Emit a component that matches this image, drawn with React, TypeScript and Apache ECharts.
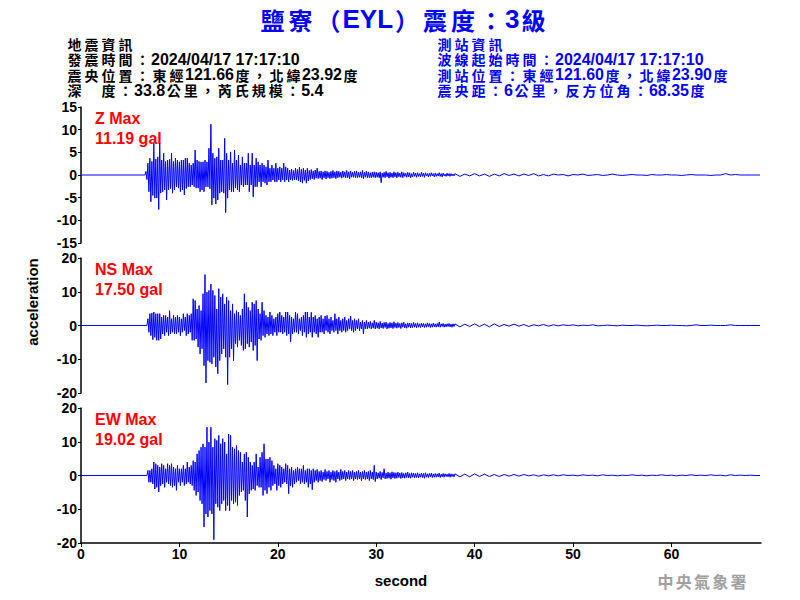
import React, { useEffect, useRef } from 'react';
import * as echarts from 'echarts';

// ---------- text content ----------
const TITLE = '鹽寮（EYL）震度：3級';
const QUAKE_INFO = [
  '地震資訊',
  '發震時間：2024/04/17 17:17:10',
  '震央位置：東經121.66度，北緯23.92度',
  '深　度：33.8公里，芮氏規模：5.4',
];
const STATION_INFO = [
  '測站資訊',
  '波線起始時間：2024/04/17 17:17:10',
  '測站位置：東經121.60度，北緯23.90度',
  '震央距：6公里，反方位角：68.35度',
];
const CHANNEL_NAMES = ['Z Max', 'NS Max', 'EW Max'];
const CHANNEL_PEAKS = ['11.19 gal', '17.50 gal', '19.02 gal'];
const X_NAME = 'second';
const Y_NAME = 'acceleration';
const AGENCY = '中央氣象署';

// ---------- axes ----------
const X_MAX = 69.1;
const X_TICKS = [0, 10, 20, 30, 40, 50, 60];
const Y_RANGES = [
  { min: -15, max: 15, interval: 5 },
  { min: -20, max: 20, interval: 10 },
  { min: -20, max: 20, interval: 10 },
];

// ---------- waveform data (gal) ----------
// strong-motion part: peak pairs (up, down) every PAIR_STEP seconds from *_START up to 37.8 s
const PAIR_STEP = 0.2;
// coda: single values every TAIL_STEP seconds from TAIL_START
const TAIL_START = 38.0;
const TAIL_STEP = 0.5;

const Z_START = 6.6;
const Z_UP = [
  0.8, 2.6, 3.7, 3.0, 7.0, 3.5, 4.0, 7.0, 3.3, 4.8,
  3.0, 3.3, 3.5, 4.8, 3.0, 3.7, 3.3, 2.9, 3.3, 3.3,
  3.7, 3.7, 2.6, 2.2, 2.6, 5.5, 3.3, 3.0, 2.9, 2.9,
  3.3, 2.9, 5.9, 11.19, 4.8, 3.7, 4.0, 5.9, 3.3, 3.3,
  8.1, 4.8, 3.3, 5.1, 2.6, 5.5, 3.3, 4.4, 2.2, 4.0,
  2.6, 2.6, 4.8, 2.2, 4.8, 2.2, 3.7, 2.9, 2.2, 2.6,
  2.2, 1.8, 3.3, 1.5, 2.2, 1.5, 2.6, 1.5, 1.8, 1.5,
  2.6, 1.8, 1.5, 1.1, 1.3, 1.0, 1.5, 1.2, 1.7, 1.3,
  1.5, 1.1, 1.5, 1.0, 1.2, 0.9, 1.1, 1.5, 0.8, 0.9,
  0.7, 0.9, 0.8, 0.6, 0.8, 1.0, 0.7, 0.9, 0.8, 0.6,
  0.9, 0.7, 1.0, 0.7, 0.9, 0.6, 0.8, 0.9, 0.6, 0.7,
  1.0, 0.6, 0.8, 0.7, 0.5, 0.6, 0.7,
  0.6, 0.5, 0.7, 0.4, 0.6, 0.8, 0.5, 0.6, 0.4, 0.7,
  0.5, 0.6, 0.4, 0.7, 0.5, 0.4, 0.6, 0.5, 0.3, 0.6,
  0.4, 0.5, 0.3, 0.6, 0.4, 0.5, 0.3, 0.4, 0.5, 0.3,
  0.4, 0.3, 0.5, 0.3, 0.4, 0.2, 0.4, 0.3, 0.3, 0.2,
];
const Z_DOWN = [
  -1.0, -3.7, -5.9, -4.5, -5.1, -5.1, -7.6, -4.0, -3.7, -3.3,
  -5.5, -3.3, -3.0, -4.0, -3.3, -2.6, -2.9, -3.7, -3.3, -4.4,
  -3.0, -2.6, -2.6, -2.2, -2.6, -2.9, -2.9, -3.7, -3.3, -3.7,
  -2.6, -2.6, -3.0, -6.6, -5.1, -6.4, -5.5, -4.0, -3.7, -4.0,
  -8.3, -5.1, -3.3, -3.7, -3.7, -2.9, -3.3, -3.7, -2.2, -2.6,
  -2.2, -2.2, -3.7, -2.2, -4.8, -2.6, -2.6, -1.5, -2.6, -1.5,
  -1.8, -2.2, -1.5, -1.5, -1.1, -1.5, -1.5, -1.1, -1.5, -1.1,
  -1.5, -1.1, -1.5, -1.1, -1.2, -1.1, -1.1, -1.3, -1.5, -1.8,
  -1.2, -1.8, -1.3, -1.0, -0.8, -1.0, -0.7, -0.8, -0.7, -1.0,
  -0.6, -0.9, -0.6, -0.8, -0.7, -0.6, -0.8, -0.6, -0.5, -0.7,
  -0.5, -0.6, -0.6, -0.8, -0.5, -0.5, -0.6, -0.6, -0.5, -0.6,
  -0.8, -0.5, -0.6, -0.6, -0.6, -0.5, -0.6,
  -0.5, -0.6, -1.7, -0.5, -0.6, -0.4, -0.7, -0.5, -0.6, -0.4,
  -0.6, -0.4, -0.5, -0.6, -0.3, -0.5, -0.4, -0.6, -0.4, -0.3,
  -0.5, -0.3, -0.4, -0.3, -0.5, -0.2, -0.4, -0.3, -0.2, -0.4,
  -0.3, -0.2, -0.3, -0.4, -0.2, -0.3, -0.2, -0.3, -0.2, -0.2,
];
const Z_TAIL = [
  0.3, -0.3, 0.2, -0.2, 0.3, -0.2, 0.2, -0.3, 0.2, -0.2,
  0.3, -0.1, 0.2, -0.2, 0.2, -0.1, 0.3, -0.2, 0.1, -0.2,
  0.2, 0, 0.1, -0.2, 0.1, 0, 0.2, -0.1, 0, 0.1,
  -0.1, 0, 0.2, 0, -0.1, 0, 0.1, 0, 0, -0.1,
  0.1, 0, 0, 0.1, 0, 0, -0.1, 0, 0.1, 0,
  0, 0, -0.1, 0, 0, 0.3, 0, 0.1, 0, 0,
  0, 0, 0,
];

const NS_START = 6.8;
const NS_UP = [
  2.0, 3.5, 3.7, 4.0, 3.5, 3.5, 3.5, 2.5, 3.0, 3.0,
  2.5, 4.4, 2.0, 3.0, 2.5, 3.0, 2.5, 2.0, 3.5, 2.5,
  3.5, 3.0, 3.5, 7.9, 7.4, 4.9, 5.9, 4.4, 9.4, 15.1,
  9.9, 10.4, 12.3, 10.4, 8.9, 4.9, 10.9, 8.4, 9.4, 6.4,
  8.4, 7.4, 4.4, 6.4, 3.5, 4.4, 4.0, 3.0, 4.9, 9.4,
  6.9, 5.4, 4.4, 6.9, 6.4, 7.4, 4.9, 3.5, 6.9, 4.4,
  3.0, 2.5, 4.0, 3.0, 2.0, 2.5, 3.5, 4.0, 3.0, 2.5,
  4.0, 4.0, 3.0, 2.5, 2.0, 4.0, 3.5, 2.0, 2.5, 3.0,
  4.0, 4.0, 2.5, 3.9, 2.5, 3.0, 2.0, 2.5, 3.0, 2.0,
  2.8, 3.0, 2.0, 2.5, 1.5, 3.5, 2.0, 2.5, 1.5, 2.0,
  2.5, 1.5, 2.0, 2.8, 1.5, 2.0, 1.5, 2.0, 1.0, 1.5,
  1.0, 1.5, 1.0, 1.2, 0.8, 1.5,
  1.0, 0.8, 1.2, 0.7, 0.9, 1.0, 0.6, 0.9, 0.8, 1.1,
  0.7, 0.9, 0.6, 0.8, 1.0, 0.5, 0.8, 0.7, 0.6, 0.9,
  0.6, 0.8, 0.5, 0.7, 0.6, 0.5, 0.8, 0.6, 0.5, 0.7,
  0.5, 0.6, 1.0, 0.5, 0.6, 0.4, 0.5, 0.6, 0.4, 0.5,
];
const NS_DOWN = [
  -2.0, -3.0, -4.2, -3.5, -4.4, -4.4, -4.0, -2.5, -3.0, -2.0,
  -3.0, -2.5, -2.0, -2.5, -2.5, -2.0, -3.0, -2.0, -1.5, -3.0,
  -2.5, -2.0, -4.4, -4.4, -4.0, -6.4, -8.4, -6.9, -11.9, -17.0,
  -10.4, -10.9, -11.4, -9.4, -12.3, -14.3, -10.4, -8.4, -6.9, -9.4,
  -17.5, -9.4, -6.9, -10.4, -5.4, -6.4, -4.4, -5.9, -7.4, -6.9,
  -5.4, -6.4, -4.9, -7.4, -5.9, -10.4, -4.0, -4.4, -3.0, -3.5,
  -2.5, -3.0, -2.5, -3.0, -2.0, -3.0, -2.0, -2.0, -2.5, -2.0,
  -3.0, -2.5, -4.9, -2.5, -2.0, -2.0, -2.5, -1.5, -3.0, -2.0,
  -3.5, -2.5, -2.0, -3.5, -2.0, -2.5, -3.5, -2.0, -2.0, -2.5,
  -1.5, -2.0, -2.5, -1.5, -2.0, -1.5, -2.5, -1.5, -2.0, -1.5,
  -2.0, -1.5, -1.0, -1.5, -2.0, -1.5, -1.0, -1.5, -1.0, -2.5,
  -1.0, -1.0, -0.8, -1.0, -0.8, -1.0,
  -0.8, -1.0, -0.7, -0.9, -0.6, -1.0, -0.8, -0.7, -0.9, -0.6,
  -0.8, -0.6, -0.9, -0.5, -0.7, -0.8, -0.5, -0.7, -0.6, -0.5,
  -0.7, -0.5, -0.6, -0.4, -0.6, -0.5, -0.4, -0.6, -0.5, -0.4,
  -0.5, -0.4, -0.5, -0.3, -0.5, -0.4, -0.3, -0.4, -0.5, -0.3,
];
const NS_TAIL = [
  0.5, -0.4, 0.4, -0.3, 0.5, -0.3, 0.4, -0.4, 0.5, -0.3,
  0.3, -0.2, 0.4, -0.2, 0.3, -0.3, 0.2, -0.1, 0.3, -0.2,
  0.2, -0.1, 0.2, 0, 0.2, -0.1, 0.1, 0, 0.2, -0.1,
  0, 0.1, 0, -0.1, 0.1, 0, 0, 0.1, 0, -0.1,
  0, 0.1, 0, 0, 0.1, 0, 0, -0.1, 0, 0.2,
  0, 0, 0.1, 0, 0, 0, 0.2, 0, 0, 0,
  0, 0, 0,
];

const EW_START = 6.8;
const EW_UP = [
  1.5, 1.5, 2.0, 4.0, 3.5, 3.0, 2.5, 3.5, 3.0, 2.0,
  3.5, 3.0, 3.5, 2.5, 2.0, 3.0, 2.0, 2.0, 3.0, 2.0,
  4.0, 2.5, 3.0, 4.4, 4.0, 6.4, 7.4, 8.4, 9.4, 8.4,
  14.3, 9.9, 14.3, 8.4, 10.9, 10.4, 11.9, 9.4, 10.9, 9.9,
  6.4, 12.3, 11.9, 8.4, 7.9, 8.9, 7.4, 6.9, 4.0, 6.4,
  6.9, 5.4, 4.0, 3.0, 4.0, 6.4, 2.5, 5.4, 6.9, 9.4,
  4.9, 4.9, 5.4, 4.4, 3.0, 2.0, 3.5, 3.0, 2.5, 2.0,
  3.5, 3.0, 2.0, 2.5, 1.5, 2.0, 2.5, 2.0, 2.0, 3.0,
  1.5, 2.0, 2.0, 1.5, 2.0, 1.5, 1.8, 1.2, 1.5, 1.0,
  1.8, 1.2, 1.5, 1.0, 1.5, 1.2, 1.5, 1.0, 1.8, 1.2,
  1.5, 1.0, 1.5, 1.2, 1.5, 1.0, 1.2, 1.5, 1.0, 1.2,
  1.5, 1.0, 1.2, 1.5, 1.0, 3.0,
  1.0, 0.8, 1.2, 0.9, 2.0, 0.7, 1.0, 0.8, 1.1, 0.9,
  0.8, 1.0, 0.7, 0.9, 0.6, 0.8, 1.0, 0.6, 0.8, 0.7,
  0.6, 0.8, 0.5, 0.7, 0.6, 0.8, 0.5, 0.6, 0.7, 0.5,
  0.6, 0.5, 0.7, 0.4, 0.6, 0.5, 0.4, 0.6, 0.5, 0.4,
];
const EW_DOWN = [
  -2.0, -2.0, -2.5, -4.0, -3.5, -4.9, -3.0, -2.5, -3.5, -2.0,
  -2.5, -3.0, -3.5, -3.0, -4.4, -2.0, -3.0, -2.0, -3.0, -2.5,
  -2.0, -2.5, -3.0, -4.4, -5.9, -4.9, -7.4, -8.4, -15.3, -11.4,
  -12.3, -10.4, -11.4, -19.02, -8.4, -9.4, -10.4, -8.4, -7.4, -10.4,
  -8.9, -10.4, -7.4, -8.4, -7.9, -8.9, -5.9, -4.9, -4.4, -7.4,
  -12.3, -5.4, -4.4, -4.0, -4.4, -3.0, -3.5, -3.5, -5.9, -4.4,
  -5.4, -3.5, -4.4, -3.0, -2.5, -4.4, -3.0, -3.5, -2.5, -2.0,
  -2.5, -5.4, -3.0, -3.5, -2.5, -2.0, -1.5, -2.5, -2.0, -2.5,
  -2.0, -3.5, -2.5, -4.2, -2.0, -1.5, -2.0, -1.5, -1.8, -1.2,
  -1.5, -1.0, -2.0, -1.2, -1.5, -2.0, -1.0, -1.5, -1.2, -1.0,
  -1.5, -1.0, -1.2, -1.0, -1.5, -1.0, -1.2, -1.0, -1.5, -1.0,
  -1.2, -1.0, -1.5, -1.0, -1.2, -1.8,
  -1.0, -0.8, -1.2, -0.7, -1.0, -0.9, -0.8, -1.1, -0.7, -0.9,
  -0.8, -0.6, -0.9, -0.7, -0.8, -0.6, -0.7, -0.8, -0.5, -0.7,
  -0.6, -0.7, -0.5, -0.6, -0.8, -0.5, -0.6, -0.4, -0.6, -0.5,
  -0.5, -0.4, -0.6, -0.4, -0.5, -0.3, -0.4, -0.5, -0.3, -0.4,
];
const EW_TAIL = [
  0.5, -0.4, 0.4, -0.4, 0.5, -0.3, 0.4, -0.3, 0.3, -0.3,
  0.3, -0.2, 0.3, -0.2, 0.3, -0.1, 0.2, -0.2, 0.2, -0.1,
  0.2, -0.1, 0.2, 0, 0.1, -0.1, 0.2, 0, 0.1, -0.1,
  0.2, 0, 0.1, -0.1, 0.1, 0, 0.2, 0, 0.1, -0.1,
  0.1, 0, 0.2, 0, 0.1, -0.1, 0.1, 0, 0.2, 0,
  0.1, 0, 0.2, 0, 0.1, -0.1, 0.2, 0, 0.1, 0,
  0.1, 0, 0,
];

function buildTrace(start: number, up: number[], down: number[], tail: number[]) {
  const pts: [number, number][] = [[0, 0], [start - 0.1, 0]];
  for (let i = 0; i < up.length; i++) {
    const t = start + i * PAIR_STEP;
    pts.push([+t.toFixed(3), up[i]]);
    pts.push([+(t + PAIR_STEP / 2).toFixed(3), down[i]]);
  }
  for (let i = 0; i < tail.length; i++) {
    pts.push([+(TAIL_START + i * TAIL_STEP).toFixed(3), tail[i]]);
  }
  return pts;
}

const SANS = '"Liberation Sans", Arial, sans-serif';
const CJK_FONT = '"Noto Sans CJK TC", "Noto Sans CJK SC", sans-serif';

// wrap each CJK / full-width character in its own fixed-width rich-text cell
function isWide(ch: string) {
  return ch.charCodeAt(0) >= 0x2e80;
}
function richify(s: string) {
  let out = '';
  let run = '';
  for (const ch of s) {
    if (isWide(ch)) {
      if (run) { out += `{a|${run}}`; run = ''; }
      out += `{c|${ch}}`;
    } else {
      run += ch;
    }
  }
  if (run) out += `{a|${run}}`;
  return out;
}

export default function App() {
  const ref = useRef<HTMLDivElement>(null);
  useEffect(() => {
    if (!ref.current) return;
    const chart = echarts.init(ref.current, undefined, { renderer: 'svg' });
    const traces = [
      buildTrace(Z_START, Z_UP, Z_DOWN, Z_TAIL),
      buildTrace(NS_START, NS_UP, NS_DOWN, NS_TAIL),
      buildTrace(EW_START, EW_UP, EW_DOWN, EW_TAIL),
    ];
    const grids = [
      { left: 81, top: 107, width: 680, height: 136 },
      { left: 81, top: 258, width: 680, height: 135 },
      { left: 81, top: 408, width: 680, height: 135 },
    ];
    const headerRich = (color: string) => ({
      a: { font: `bold 16px ${SANS}`, fill: color, height: 15 },
      c: { font: `bold 14px ${CJK_FONT}`, fill: color, width: 17, align: 'center', height: 15 },
    });
    const graphic: any[] = [];
    graphic.push({
      type: 'text', x: 403, y: 5,
      style: {
        text: richify(TITLE), textAlign: 'center', textVerticalAlign: 'top',
        rich: {
          a: { font: `bold 26px ${SANS}`, fill: '#0000ff', height: 28 },
          c: { font: `bold 24px ${CJK_FONT}`, fill: '#0000ff', width: 28, align: 'center', height: 28 },
        },
      },
    });
    QUAKE_INFO.forEach((s, i) => graphic.push({
      type: 'text', x: 66, y: 36 + i * 15.6,
      style: { text: richify(s), textAlign: 'left', textVerticalAlign: 'top', rich: headerRich('#000000') },
    }));
    STATION_INFO.forEach((s, i) => graphic.push({
      type: 'text', x: 436, y: 36 + i * 15.6,
      style: { text: richify(s), textAlign: 'left', textVerticalAlign: 'top', rich: headerRich('#0000ff') },
    }));
    grids.forEach((g, i) => {
      graphic.push({
        type: 'text', x: 95, y: g.top + 3,
        style: { text: CHANNEL_NAMES[i], fill: '#ff0000', font: `bold 16px ${SANS}`, textAlign: 'left', textVerticalAlign: 'top' },
      });
      graphic.push({
        type: 'text', x: 95, y: g.top + 23,
        style: { text: CHANNEL_PEAKS[i], fill: '#ff0000', font: `bold 16px ${SANS}`, textAlign: 'left', textVerticalAlign: 'top' },
      });
    });
    graphic.push({
      type: 'text', x: 401, y: 580,
      style: { text: X_NAME, fill: '#000', font: `bold 15px ${SANS}`, textAlign: 'center', textVerticalAlign: 'middle' },
    });
    graphic.push({
      type: 'text', x: 32, y: 302, rotation: Math.PI / 2,
      style: { text: Y_NAME, fill: '#000', font: `bold 15px ${SANS}`, textAlign: 'center', textVerticalAlign: 'middle' },
    });
    graphic.push({
      type: 'text', x: 702, y: 581,
      style: {
        text: richify(AGENCY), textAlign: 'center', textVerticalAlign: 'middle',
        rich: { c: { font: `bold 16px ${CJK_FONT}`, fill: '#a0a0a0', width: 18.2, align: 'center' } },
      },
    });

    chart.setOption({
      animation: false,
      backgroundColor: '#ffffff',
      grid: grids,
      xAxis: grids.map((_, i) => ({
        type: 'value', gridIndex: i, min: 0, max: X_MAX, interval: 10,
        show: i === 2,
        axisLine: { show: true, onZero: false, lineStyle: { color: '#000', width: 1.5 } },
        axisTick: { show: true, length: 4, customValues: X_TICKS, lineStyle: { color: '#000', width: 1 } },
        axisLabel: { show: true, customValues: X_TICKS, color: '#000', fontWeight: 'bold', fontSize: 14, fontFamily: SANS, margin: 4 },
        splitLine: { show: false },
      })),
      yAxis: Y_RANGES.map((r, i) => ({
        type: 'value', gridIndex: i, min: r.min, max: r.max, interval: r.interval,
        axisLine: { show: true, onZero: false, lineStyle: { color: '#000', width: 1.5 } },
        axisTick: { show: true, length: 3, lineStyle: { color: '#000', width: 1 } },
        axisLabel: { color: '#000', fontWeight: 'bold', fontSize: 14, fontFamily: SANS, margin: 4 },
        splitLine: { show: false },
      })),
      series: traces.map((d, i) => ({
        type: 'line', xAxisIndex: i, yAxisIndex: i, data: d,
        showSymbol: false, symbol: 'none', silent: true,
        lineStyle: { color: '#0000ff', width: 1 },
      })),
      graphic,
    });
    return () => chart.dispose();
  }, []);
  return <div ref={ref} style={{ position: 'absolute', left: 0, top: 0, width: 800, height: 600 }} />;
}
